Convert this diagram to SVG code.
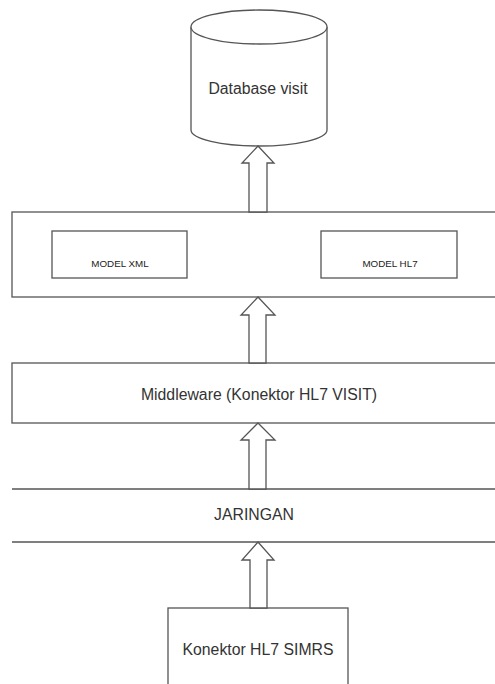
<svg xmlns="http://www.w3.org/2000/svg" width="495" height="684" viewBox="0 0 495 684">
<style>
.s{fill:#fff;stroke:#555;stroke-width:1.3}
.t{font-family:"Liberation Sans",Arial,sans-serif;font-size:15.8px;fill:#333;text-anchor:middle}
.m{font-family:"Liberation Sans",Arial,sans-serif;font-size:9.8px;fill:#222;text-anchor:middle}
.l{stroke:#555;stroke-width:1.3;fill:none}
</style>
<rect width="495" height="684" fill="#fff"/>
<g id="database">
<path class="s" d="M191,27 L191,130 A68,16 0 0 0 327,130 L327,27"/>
<ellipse class="s" cx="259" cy="27" rx="68" ry="17"/>
<text class="t" x="258" y="94">Database visit</text>
</g>
<g id="model">
<rect class="s" x="12" y="212" width="490" height="85"/>
<g id="model-xml">
<rect class="s" x="52" y="231" width="135" height="47"/>
<text class="m" x="120" y="267">MODEL XML</text>
</g>
<g id="model-hl7">
<rect class="s" x="321" y="231" width="136" height="47"/>
<text class="m" x="390" y="267">MODEL HL7</text>
</g>
</g>
<g id="middleware">
<rect class="s" x="12" y="363" width="490" height="60"/>
<text class="t" x="259" y="400">Middleware (Konektor HL7 VISIT)</text>
</g>
<g id="jaringan">
<line class="l" x1="12" y1="489" x2="495" y2="489"/>
<line class="l" x1="12" y1="542" x2="495" y2="542"/>
<text class="t" x="254" y="520">JARINGAN</text>
</g>
<g id="konektor-simrs">
<rect class="s" x="168" y="608" width="180" height="90"/>
<text class="t" x="258" y="655">Konektor HL7 SIMRS</text>
</g>
<g id="connectors">
<polygon class="s" points="258,146 274,163 267,163 267,212 249,212 249,163 242,163"/>
<polygon class="s" points="258,297 275,315 266,315 266,363 249,363 249,315 241,315"/>
<polygon class="s" points="258,423 275,440 266,440 266,489 249,489 249,440 241,440"/>
<polygon class="s" points="258,542 274,560 267,560 267,608 250,608 250,560 242,560"/>
</g>
</svg>
